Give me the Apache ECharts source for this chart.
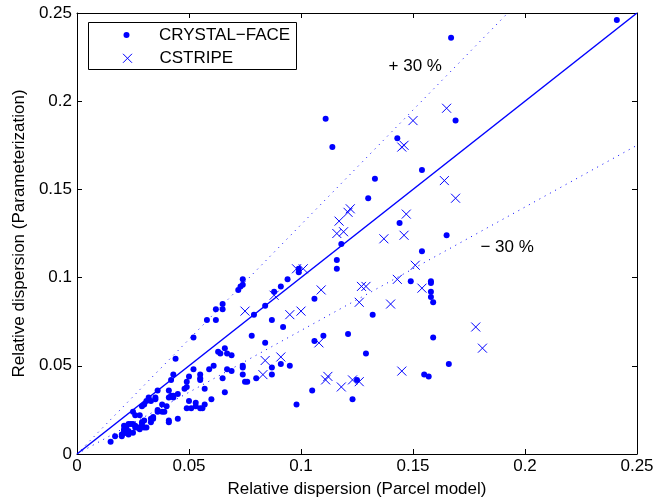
<!DOCTYPE html>
<html>
<head>
<meta charset="utf-8">
<script src="https://cdn.jsdelivr.net/npm/echarts@6/dist/echarts.min.js"></script>
<style>html,body{margin:0;padding:0;background:#fff;}#c{width:665px;height:503px;}</style>
</head>
<body>
<div id="c"></div>
<script>
// ---- data ----
const crystalFace = [
[0.241,0.246],[0.167,0.236],[0.111,0.190],[0.169,0.189],[0.114,0.174],[0.143,0.179],[0.154,0.161],[0.133,0.156],
[0.130,0.145],[0.144,0.131],[0.165,0.124],[0.118,0.119],[0.116,0.110],[0.116,0.105],[0.154,0.115],[0.099,0.105],
[0.099,0.103],[0.149,0.098],[0.158,0.098],[0.158,0.097],[0.158,0.092],[0.158,0.089],[0.159,0.086],[0.159,0.066],
[0.166,0.051],[0.155,0.045],[0.157,0.044],[0.132,0.079],[0.129,0.057],[0.121,0.068],[0.123,0.031],[0.125,0.042],
[0.105,0.036],[0.098,0.028],[0.106,0.088],[0.106,0.064],[0.110,0.067],[0.088,0.092],[0.091,0.095],[0.094,0.099],
[0.084,0.084],[0.079,0.079],[0.087,0.076],[0.092,0.072],[0.078,0.067],[0.084,0.063],[0.091,0.051],[0.087,0.049],
[0.087,0.045],[0.095,0.050],[0.080,0.043],[0.075,0.041],[0.076,0.041],[0.074,0.050],[0.074,0.049],[0.074,0.045],
[0.069,0.056],[0.069,0.047],[0.067,0.048],[0.065,0.043],[0.063,0.058],[0.066,0.060],[0.064,0.057],[0.067,0.057],
[0.059,0.048],[0.061,0.050],[0.055,0.045],[0.055,0.043],[0.055,0.042],[0.052,0.048],[0.050,0.044],[0.049,0.041],
[0.057,0.037],[0.066,0.035],[0.060,0.031],[0.057,0.028],[0.053,0.029],[0.049,0.026],[0.051,0.026],[0.056,0.026],
[0.045,0.020],[0.048,0.037],[0.049,0.038],[0.045,0.034],[0.043,0.033],[0.043,0.032],[0.041,0.032],[0.041,0.036],
[0.036,0.036],[0.044,0.054],[0.052,0.066],[0.043,0.045],[0.042,0.042],[0.058,0.076],[0.062,0.076],[0.065,0.085],
[0.062,0.082],[0.065,0.082],[0.074,0.099],[0.074,0.096],[0.073,0.095],[0.072,0.093],[0.050,0.030],[0.053,0.027],
[0.055,0.026],[0.032,0.032],[0.035,0.031],[0.035,0.032],[0.033,0.030],[0.036,0.025],[0.036,0.024],[0.040,0.027],
[0.039,0.024],[0.038,0.024],[0.041,0.019],[0.041,0.018],[0.029,0.027],[0.030,0.028],[0.025,0.024],[0.026,0.022],
[0.028,0.022],[0.034,0.021],[0.033,0.020],[0.034,0.020],[0.033,0.018],[0.029,0.018],[0.031,0.015],[0.030,0.015],
[0.028,0.015],[0.028,0.014],[0.027,0.015],[0.023,0.017],[0.024,0.017],[0.021,0.016],[0.021,0.014],[0.022,0.015],
[0.026,0.016],[0.021,0.013],[0.022,0.012],[0.023,0.011],[0.020,0.011],[0.021,0.012],[0.023,0.013],[0.025,0.012],
[0.017,0.010],[0.020,0.010],[0.015,0.007],[0.038,0.028],[0.031,0.030],[0.030,0.019],[0.029,0.017],[0.025,0.017],
[0.026,0.015],[0.022,0.012],[0.042,0.033]
];
const cstripe = [
[0.165,0.196],[0.150,0.189],[0.145,0.174],[0.146,0.175],[0.164,0.155],[0.169,0.145],[0.147,0.136],[0.122,0.139],
[0.121,0.137],[0.117,0.132],[0.116,0.125],[0.119,0.126],[0.137,0.122],[0.146,0.124],[0.098,0.105],[0.101,0.105],
[0.088,0.090],[0.109,0.093],[0.127,0.095],[0.129,0.095],[0.143,0.099],[0.151,0.107],[0.154,0.094],[0.075,0.081],
[0.095,0.079],[0.100,0.081],[0.126,0.086],[0.140,0.085],[0.108,0.063],[0.084,0.053],[0.091,0.055],[0.083,0.045],
[0.111,0.042],[0.112,0.044],[0.118,0.038],[0.123,0.042],[0.126,0.041],[0.145,0.047],[0.178,0.072],[0.181,0.060]
];
const axisTicks = [0, 0.05, 0.1, 0.15, 0.2, 0.25];
const seriesNames = ['CRYSTAL\u2212FACE', 'CSTRIPE'];
const refLine = [[0, 0], [0.25, 0.25]];            // 1:1 line
const plus30 = [[0, 0], [0.25 / 1.3, 0.25]];       // +30 %
const minus30 = [[0, 0], [0.25, 0.175]];           // -30 %
const annotationTexts = ['+ 30 %', '\u2212 30 %'];
const annotationPos = [[0.1391, 0.2195], [0.1801, 0.1174]];

// ---- chart ----
const BLUE = '#0000ff';
const FONT = 'Liberation Sans, Arial, Helvetica, sans-serif';
const FS = 17;
const crossPath = 'path://M0,0L10,10M10,0L0,10';
const chart = echarts.init(document.getElementById('c'), null, { renderer: 'canvas' });

const axisCommon = {
  type: 'value', min: axisTicks[0], max: axisTicks[axisTicks.length - 1], interval: 0.05,
  splitLine: { show: false },
  axisLine: { show: true, onZero: false, lineStyle: { color: '#000', width: 1 } },
  axisTick: { show: true, inside: true, length: 5, lineStyle: { color: '#000' } }
};
const fmt = v => String(+v.toFixed(2));

chart.setOption({
  animation: false,
  backgroundColor: '#fff',
  grid: { left: 77, right: 28, top: 13, bottom: 47, containLabel: false },
  xAxis: [
    Object.assign({}, axisCommon, {
      position: 'bottom',
      name: 'Relative dispersion (Parcel model)', nameLocation: 'middle', nameGap: 27,
      nameTextStyle: { fontFamily: FONT, fontSize: FS, color: '#000' },
      axisLabel: { margin: 4, fontFamily: FONT, fontSize: FS, color: '#000', formatter: fmt }
    }),
    Object.assign({}, axisCommon, { position: 'top', axisLabel: { show: false } })
  ],
  yAxis: [
    Object.assign({}, axisCommon, {
      position: 'left',
      name: 'Relative dispersion (Parameterization)', nameLocation: 'middle', nameGap: 48,
      nameTextStyle: { fontFamily: FONT, fontSize: FS, color: '#000' },
      axisLabel: { margin: 5, fontFamily: FONT, fontSize: FS, color: '#000', formatter: fmt }
    }),
    Object.assign({}, axisCommon, { position: 'right', axisLabel: { show: false } })
  ],
  legend: [
    {
      data: [{ name: seriesNames[0], icon: 'circle' }],
      left: 123.5, top: 25, padding: 0, itemWidth: 6, itemHeight: 6,
      selectedMode: false, z: 10,
      textStyle: { fontFamily: FONT, fontSize: FS, color: '#000', lineHeight: 20, padding: [0, 0, 0, 24.5] }
    },
    {
      data: [{ name: seriesNames[1], icon: crossPath,
               itemStyle: { color: 'rgba(0,0,0,0)', borderColor: BLUE, borderWidth: 1 } }],
      left: 122.5, top: 48.3, padding: 0, itemWidth: 9, itemHeight: 9,
      selectedMode: false, z: 10,
      textStyle: { fontFamily: FONT, fontSize: FS, color: '#000', lineHeight: 20, padding: [0, 0, 0, 22.5] }
    }
  ],
  series: [
    { name: '1:1', type: 'line', data: refLine, showSymbol: false, symbol: 'none', silent: true,
      lineStyle: { color: BLUE, width: 1.5 }, z: 1 },
    { name: '+30', type: 'line', data: plus30, showSymbol: false, symbol: 'none', silent: true,
      lineStyle: { color: BLUE, width: 1, type: [1, 5] }, z: 1 },
    { name: '-30', type: 'line', data: minus30, showSymbol: false, symbol: 'none', silent: true,
      lineStyle: { color: BLUE, width: 1, type: [1, 5] }, z: 1 },
    { name: seriesNames[0], type: 'scatter', data: crystalFace, symbol: 'circle', symbolSize: 6,
      itemStyle: { color: BLUE, opacity: 1 }, z: 2 },
    { name: seriesNames[1], type: 'scatter', data: cstripe, symbol: crossPath, symbolSize: 9,
      itemStyle: { color: 'rgba(0,0,0,0)', borderColor: BLUE, borderWidth: 1, opacity: 1 }, z: 2 }
  ]
});

// legend box and annotation texts, placed through the grid's coordinate system
const graphics = [
  { type: 'rect', z: 5, shape: { x: 88.5, y: 22.5, width: 208, height: 47 },
    style: { fill: '#fff', stroke: '#000', lineWidth: 1 } }
];
annotationTexts.forEach((t, i) => {
  const p = chart.convertToPixel({ gridIndex: 0 }, annotationPos[i]);
  graphics.push({ type: 'text', z: 6, x: p[0], y: p[1],
    style: { text: t, fill: '#000', font: FS + 'px ' + FONT, textAlign: 'left', textVerticalAlign: 'middle' } });
});
chart.setOption({ graphic: graphics });
</script>
</body>
</html>
